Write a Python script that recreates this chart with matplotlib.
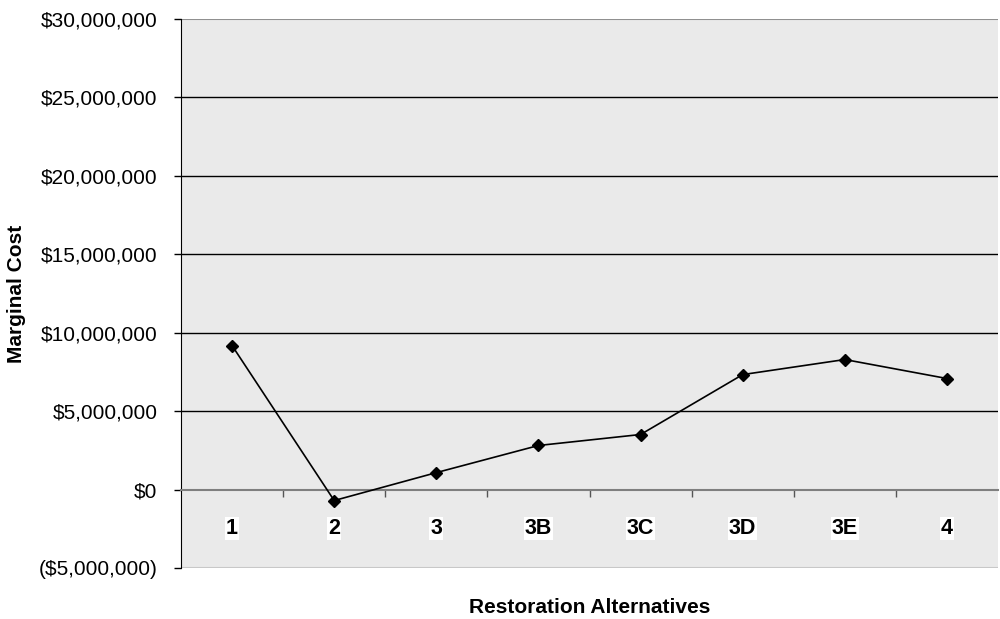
import matplotlib.pyplot as plt
from matplotlib.ticker import FuncFormatter

plt.rcParams['font.family'] = ['Liberation Sans', 'DejaVu Sans']

alternatives = ['1', '2', '3', '3B', '3C', '3D', '3E', '4']
marginal_cost = [9.18e6, -0.70e6, 1.08e6, 2.81e6, 3.51e6, 7.33e6, 8.29e6, 7.08e6]
y_ticks = [-5e6, 0, 5e6, 10e6, 15e6, 20e6, 25e6, 30e6]


def money(v, pos=None):
    if v < 0:
        return '(${:,.0f})'.format(-v)
    return '${:,.0f}'.format(v)


fig = plt.figure(figsize=(10, 6.19), dpi=100)
ax = fig.add_axes([0.181, 0.0824, 0.817, 0.8869])
ax.set_facecolor('#eaeaea')

xs = list(range(len(alternatives)))
ax.set_xlim(-0.5, len(alternatives) - 0.5)
ax.set_ylim(y_ticks[0], y_ticks[-1])

# horizontal gridlines
for t in y_ticks[2:-1]:
    ax.axhline(t, color='black', lw=1.0, zorder=1)
ax.axhline(y_ticks[-1], color='#909090', lw=1.5, zorder=1)
ax.axhline(y_ticks[0], color='#c8c8c8', lw=1.5, zorder=1)

ax.plot(xs, marginal_cost, color='black', lw=1.2, marker='D',
        markersize=6, zorder=3)

# category axis crosses at zero, ticks between categories
ax.spines['bottom'].set_position(('data', 0))
ax.spines['bottom'].set_color('#7f7f7f')
ax.spines['bottom'].set_linewidth(1.5)
ax.spines['top'].set_visible(False)
ax.spines['right'].set_visible(False)
ax.spines['left'].set_color('black')
ax.set_xticks([i + 0.5 for i in xs[:-1]])
ax.set_xticklabels([])
ax.tick_params(axis='x', direction='out', length=5, width=1, color='#555555')

for x, name in zip(xs, alternatives):
    ax.text(x, -2.5e6, name, ha='center', va='center', fontsize=15.5,
            fontweight='bold', zorder=4,
            bbox=dict(facecolor='white', edgecolor='none', pad=0.8))

ax.set_yticks(y_ticks)
ax.yaxis.set_major_formatter(FuncFormatter(money))
ax.tick_params(axis='y', direction='out', length=5, width=1, color='black',
               labelsize=15, pad=12)

fig.text(0.017, 0.526, 'Marginal Cost', rotation=90, ha='center', va='center',
         fontsize=15, fontweight='bold')
fig.text(0.5895, 0.019, 'Restoration Alternatives', ha='center', va='center',
         fontsize=15, fontweight='bold')

fig.savefig('out.png', dpi=100)
